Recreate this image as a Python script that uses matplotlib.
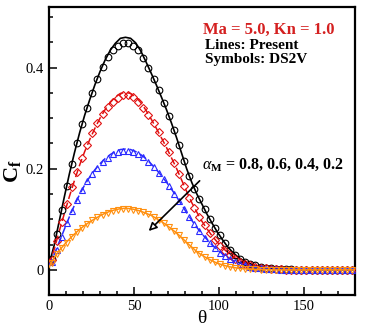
import matplotlib
matplotlib.use("Agg")
import matplotlib.pyplot as plt
from matplotlib.ticker import MultipleLocator

plt.rcParams['font.family'] = ['Liberation Serif', 'DejaVu Serif']
plt.rcParams['mathtext.fontset'] = 'custom'
plt.rcParams['mathtext.rm'] = 'Liberation Serif'
plt.rcParams['mathtext.it'] = 'Liberation Serif:italic'
plt.rcParams['mathtext.bf'] = 'Liberation Serif:bold'

# present method (lines), theta in degrees
theta_line = [0, 3, 6, 9, 12, 15, 18, 21, 24, 27, 30, 33, 36, 39, 42, 45, 48, 51, 54, 57,
              60, 63, 66, 69, 72, 75, 78, 81, 84, 87, 90, 93, 96, 99, 102, 105, 108, 111, 114, 117,
              120, 123, 126, 129, 132, 135, 138, 141, 144, 147, 150, 153, 156, 159, 162, 165, 168, 171, 174, 177,
              180]
cf_line_08 = [0.010, 0.048, 0.096, 0.144, 0.190, 0.232, 0.271, 0.306, 0.337, 0.366, 0.392, 0.415, 0.434, 0.448, 0.458, 0.460, 0.458, 0.449, 0.433, 0.412,
              0.390, 0.367, 0.343, 0.318, 0.291, 0.262, 0.231, 0.200, 0.173, 0.150, 0.130, 0.110, 0.092, 0.075, 0.060, 0.046, 0.035, 0.026, 0.019, 0.014,
              0.010, 0.007, 0.005, 0.0035, 0.0025, 0.0018, 0.0012, 0.0008, 0.0005, 0.0003, 0.0002, 0, 0, 0, 0, 0, 0, 0, 0, 0,
              0]
cf_line_06 = [0.010, 0.040, 0.076, 0.111, 0.145, 0.177, 0.207, 0.234, 0.258, 0.280, 0.300, 0.317, 0.331, 0.342, 0.349, 0.351, 0.349, 0.342, 0.331, 0.316,
              0.299, 0.281, 0.262, 0.243, 0.222, 0.201, 0.178, 0.155, 0.133, 0.114, 0.096, 0.081, 0.067, 0.055, 0.044, 0.035, 0.027, 0.020, 0.015, 0.011,
              0.008, 0.006, 0.004, 0.003, 0.002, 0.0014, 0.001, 0.0006, 0.0004, 0, 0, 0, 0, 0, 0, 0, 0, 0, 0, 0,
              0]
cf_line_04 = [0.008, 0.030, 0.055, 0.080, 0.105, 0.128, 0.149, 0.168, 0.184, 0.198, 0.210, 0.220, 0.228, 0.234, 0.238, 0.239, 0.238, 0.234, 0.228, 0.220,
              0.210, 0.199, 0.187, 0.174, 0.160, 0.145, 0.129, 0.113, 0.098, 0.084, 0.071, 0.060, 0.049, 0.040, 0.032, 0.025, 0.019, 0.015, 0.011, 0.008,
              0.006, 0.004, 0.003, 0.002, 0.0014, 0.001, 0.0006, 0.0004, 0, 0, 0, 0, 0, 0, 0, 0, 0, 0, 0, 0,
              0]
cf_line_02 = [0.005, 0.024, 0.038, 0.050, 0.061, 0.071, 0.080, 0.088, 0.095, 0.101, 0.107, 0.112, 0.116, 0.119, 0.121, 0.122, 0.121, 0.119, 0.116, 0.112,
              0.108, 0.102, 0.096, 0.089, 0.081, 0.073, 0.064, 0.054, 0.045, 0.036, 0.029, 0.023, 0.018, 0.013, 0.010, 0.007, 0.005, 0.0035, 0.0025, 0.0018,
              0.0012, 0.0008, 0.0005, 0.0003, 0, 0, 0, 0, 0, 0, 0, 0, 0, 0, 0, 0, 0, 0, 0, 0,
              0]

# DS2V (symbols)
theta_sym = [1.5, 4.5, 7.5, 10.5, 13.5, 16.5, 19.5, 22.5, 25.5, 28.5, 31.5, 34.5, 37.5, 40.5, 43.5, 46.5, 49.5, 52.5, 55.5, 58.5,
             61.5, 64.5, 67.5, 70.5, 73.5, 76.5, 79.5, 82.5, 85.5, 88.5, 91.5, 94.5, 97.5, 100.5, 103.5, 106.5, 109.5, 112.5, 115.5, 118.5,
             121.5, 124.5, 127.5, 130.5, 133.5, 136.5, 139.5, 142.5, 145.5, 148.5, 151.5, 154.5, 157.5, 160.5, 163.5, 166.5, 169.5, 172.5, 175.5, 178.5]
cf_sym_08 = [0.022, 0.070, 0.119, 0.166, 0.210, 0.251, 0.288, 0.321, 0.350, 0.378, 0.402, 0.421, 0.434, 0.443, 0.449, 0.448, 0.443, 0.434, 0.419, 0.399,
             0.378, 0.355, 0.331, 0.305, 0.277, 0.247, 0.215, 0.185, 0.160, 0.140, 0.120, 0.100, 0.083, 0.068, 0.053, 0.040, 0.030, 0.022, 0.016, 0.012,
             0.009, 0.006, 0.004, 0.003, 0.002, 0.0015, 0.001, 0.001, 0.0005, 0, 0, 0, 0, 0, 0, 0, 0, 0, 0, 0]
cf_sym_06 = [0.020, 0.058, 0.095, 0.130, 0.163, 0.194, 0.222, 0.247, 0.270, 0.290, 0.308, 0.323, 0.333, 0.340, 0.345, 0.345, 0.341, 0.333, 0.321, 0.306,
             0.290, 0.272, 0.253, 0.233, 0.212, 0.190, 0.166, 0.143, 0.122, 0.104, 0.088, 0.073, 0.060, 0.048, 0.038, 0.029, 0.022, 0.016, 0.012, 0.009,
             0.006, 0.0045, 0.003, 0.002, 0.0015, 0.001, 0, 0, 0, 0, 0, 0, 0, 0, 0, 0, 0, 0, 0, 0]
cf_sym_04 = [0.015, 0.040, 0.066, 0.092, 0.116, 0.138, 0.158, 0.175, 0.190, 0.202, 0.213, 0.222, 0.229, 0.233, 0.236, 0.236, 0.234, 0.230, 0.223, 0.214,
             0.204, 0.192, 0.180, 0.166, 0.151, 0.136, 0.120, 0.105, 0.090, 0.076, 0.064, 0.053, 0.043, 0.034, 0.027, 0.021, 0.016, 0.012, 0.009, 0.006,
             0.004, 0.003, 0.002, 0.0015, 0.001, 0, 0, 0, 0, 0, 0, 0, 0, 0, 0, 0, 0, 0, 0, 0]
cf_sym_02 = [0.013, 0.031, 0.044, 0.054, 0.065, 0.075, 0.083, 0.091, 0.098, 0.104, 0.109, 0.113, 0.116, 0.119, 0.120, 0.120, 0.119, 0.117, 0.114, 0.110,
             0.105, 0.099, 0.092, 0.085, 0.077, 0.068, 0.059, 0.049, 0.040, 0.032, 0.026, 0.020, 0.015, 0.011, 0.008, 0.005, 0.004, 0.003, 0.002, 0.0015,
             0.001, 0, 0, 0, 0, 0, 0, 0, 0, 0, 0, 0, 0, 0, 0, 0, 0, 0, 0, 0]

fig = plt.figure(figsize=(3.74, 3.32), dpi=100)
ax = fig.add_axes([0.131, 0.111, 0.818, 0.868])

ax.plot(theta_line, cf_line_08, color='black', lw=1.2, zorder=3)
ax.plot(theta_sym, cf_sym_08, ls='none', marker='o', ms=4.8, mfc='none', mec='black', mew=0.8, zorder=4)

ax.plot(theta_line, cf_line_06, color='#e01010', lw=1.1, ls=(0, (5, 2.5)), zorder=3)
ax.plot(theta_sym, cf_sym_06, ls='none', marker='D', ms=3.6, mfc='none', mec='#e01010', mew=0.8, zorder=4)

ax.plot(theta_line, cf_line_04, color='#2a2aff', lw=1.1, ls=(0, (5, 2.5)), zorder=3)
ax.plot(theta_sym, cf_sym_04, ls='none', marker='^', ms=4.2, mfc='none', mec='#2a2aff', mew=0.8, zorder=4)

ax.plot(theta_line, cf_line_02, color='#ff9010', lw=1.1, zorder=5)
ax.plot(theta_sym, cf_sym_02, ls='none', marker='v', ms=4.2, mfc='none', mec='#ff9010', mew=0.8, zorder=6)

ax.set_xlim(0, 180)
ax.set_ylim(-0.05, 0.52)
ax.set_xticks([0, 50, 100, 150])
ax.set_yticks([0, 0.2, 0.4])
ax.set_yticklabels(['0', '0.2', '0.4'])
ax.xaxis.set_minor_locator(MultipleLocator(10))
ax.yaxis.set_minor_locator(MultipleLocator(0.05))
ax.tick_params(which='both', direction='in', top=False, right=False, labelsize=10.5, width=1.1)
ax.tick_params(which='major', length=6)
ax.tick_params(which='minor', length=3)
for s in ax.spines.values():
    s.set_linewidth(1.6)

ax.set_xlabel('θ', fontsize=14, labelpad=-2)
ax.set_ylabel(r'$\mathbf{C}_\mathbf{f}$', fontsize=16)
ax.yaxis.set_label_coords(-0.085, 0.43)

ax.text(90.8, 0.466, 'Ma = 5.0, Kn = 1.0', color='#d42020', fontsize=12, fontweight='bold')
ax.text(91.7, 0.437, 'Lines: Present', color='black', fontsize=11, fontweight='bold')
ax.text(91.7, 0.409, 'Symbols: DS2V', color='black', fontsize=11, fontweight='bold')
ax.text(89.8, 0.200, r'$\alpha_{\mathbf{M}}$ = 0.8, 0.6, 0.4, 0.2', color='black', fontsize=11.5, fontweight='bold')

ax.annotate('', xy=(57.5, 0.073), xytext=(89.8, 0.18),
            arrowprops=dict(arrowstyle='-|>', ec='black', fc='white', lw=1.2, mutation_scale=12), zorder=7)

fig.savefig('out.png', dpi=100)
